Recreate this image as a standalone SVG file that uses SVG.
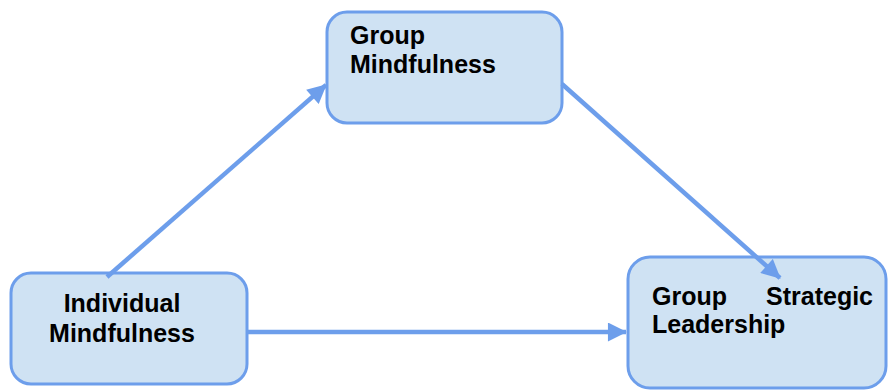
<svg xmlns="http://www.w3.org/2000/svg" width="889" height="391" viewBox="0 0 889 391">
  <style>
    .box { fill: #cfe2f3; stroke: #6d9eeb; stroke-width: 3; }
    .lbl { font-family: "Liberation Sans", Arial, sans-serif; font-weight: bold; font-size: 25px; fill: #000; }
    .link { stroke: #6d9eeb; stroke-width: 4.5; fill: none; marker-end: url(#head); }
  </style>
  <defs>
    <marker id="head" viewBox="0 0 10 10" refX="9.5" refY="5" markerUnits="userSpaceOnUse" markerWidth="20" markerHeight="19" orient="auto">
      <path d="M0,0 L10,5 L0,10 Z" fill="#6d9eeb"/>
    </marker>
  </defs>
  <rect width="889" height="391" fill="#fff"/>

  <g id="individual-mindfulness">
    <rect class="box" x="11" y="273" width="236" height="111" rx="20"/>
    <text class="lbl" x="122" y="312" text-anchor="middle">Individual</text>
    <text class="lbl" x="122" y="342" text-anchor="middle">Mindfulness</text>
  </g>

  <g id="group-mindfulness">
    <rect class="box" x="327" y="12" width="235" height="111" rx="20"/>
    <text class="lbl" x="350" y="44">Group</text>
    <text class="lbl" x="350" y="73">Mindfulness</text>
  </g>

  <g id="group-strategic-leadership">
    <rect class="box" x="628" y="257" width="258" height="131" rx="22"/>
    <text class="lbl" x="652" y="305">Group</text>
    <text class="lbl" x="873" y="305" text-anchor="end">Strategic</text>
    <text class="lbl" x="652" y="333">Leadership</text>
  </g>

  <!-- drawn after the boxes so the arrowheads sit on top of the box edges -->
  <g id="connectors">
    <line class="link" x1="107" y1="277" x2="326" y2="85"/>
    <line class="link" x1="562" y1="84" x2="780" y2="278"/>
    <line class="link" x1="248" y1="332" x2="626" y2="332"/>
  </g>
</svg>
